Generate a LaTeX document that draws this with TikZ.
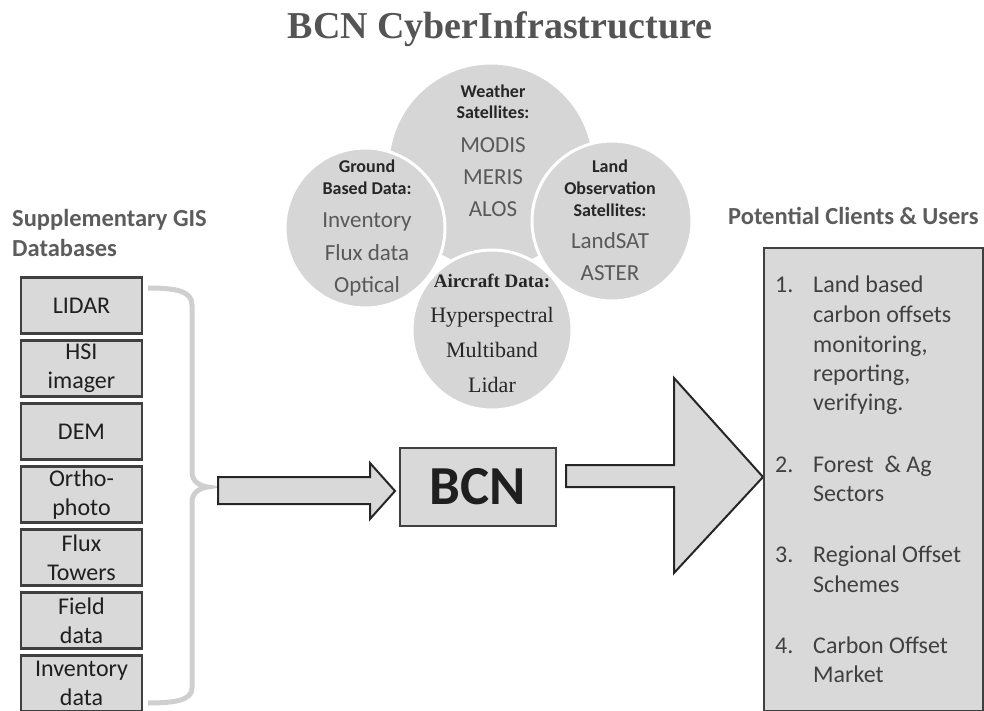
\documentclass[tikz,border=0pt]{standalone}
\usepackage{fontspec}
\setmainfont{Carlito}
\newfontfamily\timesrm{Liberation Serif}
\usetikzlibrary{positioning}

\definecolor{boxfill}{gray}{0.85}
\definecolor{cloudfill}{gray}{0.84}
\definecolor{boxline}{gray}{0.25}
\definecolor{headgray}{gray}{0.36}
\definecolor{bracegray}{gray}{0.81}

\begin{document}
\begin{tikzpicture}[x=1pt, y=-1pt,
    gisbox/.style={draw=boxline, fill=boxfill, line width=2.4pt, outer sep=0pt,
      minimum width=121pt, minimum height=56pt, inner sep=0pt, align=center,
      text=black!88, font=\fontsize{24}{28.5}\selectfont},
    cloud/.style={circle, fill=cloudfill, draw=white, line width=3pt, inner sep=0pt},
    cloudhead/.style={anchor=base, text=black!85, font=\fontsize{18}{20}\selectfont\bfseries},
    clouditem/.style={anchor=base, text=black!65, font=\fontsize{23}{26}\selectfont},
    airhead/.style={anchor=base, text=black!85, font=\timesrm\fontsize{19}{22}\selectfont\bfseries},
    airitem/.style={anchor=base, text=black!85, font=\timesrm\fontsize{22}{26}\selectfont},
    heading/.style={anchor=base west, inner sep=0pt, text=headgray,
      font=\fontsize{24.5}{28}\selectfont\bfseries},
    clientitem/.style={anchor=base west, inner sep=0pt, text=black!75,
      font=\fontsize{24}{28}\selectfont},
    blockarrow/.style={draw=black!85, fill=boxfill, line width=2pt, line join=miter}
  ]
  \useasboundingbox (0,0) rectangle (984,711);

  % Title
  \node[anchor=base, text=black!67, font=\timesrm\fontsize{38}{44}\selectfont\bfseries]
    (title) at (500,39) {BCN CyberInfrastructure};

  % Data source circles
  \node[cloud, minimum size=206pt] (weather) at (491,166) {};
  \node[cloud, minimum size=160pt] (ground) at (365,228) {};
  \node[cloud, minimum size=160pt] (land) at (612,221) {};
  \node[cloud, minimum size=160pt] (aircraft) at (492,330) {};

  \node[cloudhead] (w1) at (493,98) {Weather};
  \node[cloudhead] (w2) at (493,119) {Satellites:};
  \foreach \t/\y [count=\i] in {MODIS/153, MERIS/185, ALOS/217}
    \node[clouditem] (wi\i) at (493,\y) {\t};

  \node[cloudhead] (g1) at (367,173) {Ground};
  \node[cloudhead] (g2) at (367,195) {Based Data:};
  \foreach \t/\y [count=\i] in {Inventory/228, Flux data/260, Optical/292}
    \node[clouditem] (gi\i) at (367,\y) {\t};

  \node[cloudhead] (l1) at (610,173) {Land};
  \node[cloudhead] (l2) at (610,195) {Observation};
  \node[cloudhead] (l3) at (610,217) {Satellites:};
  \foreach \t/\y [count=\i] in {LandSAT/248, ASTER/280}
    \node[clouditem] (li\i) at (610,\y) {\t};

  \node[airhead] (a1) at (492,287) {Aircraft Data:};
  \foreach \t/\y [count=\i] in {Hyperspectral/322, Multiband/357, Lidar/392}
    \node[airitem] (ai\i) at (492,\y) {\t};

  % Supplementary GIS databases
  \node[heading] (gishead) at (12,227) {Supplementary GIS};
  \node[heading] (gishead2) at (12,256) {Databases};

  \node[gisbox] (lidar) at (81.5,305.5) {LIDAR};
  \node[gisbox, below=7pt of lidar] (hsi) {HSI\\imager};
  \node[gisbox, below=7pt of hsi] (dem) {DEM};
  \node[gisbox, below=7pt of dem] (ortho) {Ortho-\\photo};
  \node[gisbox, below=7pt of ortho] (flux) {Flux\\Towers};
  \node[gisbox, below=7pt of flux] (field) {Field\\data};
  \node[gisbox, below=7pt of field] (invent) {Inventory\\data};

  % Brace
  \draw[bracegray, line width=5pt]
    (148,288) .. controls (176,288) and (192,291) .. (192,305)
    -- (192,472) .. controls (192,481) and (199,486) .. (208,487)
    coordinate (bracetip)
    .. controls (199,488) and (192,493) .. (192,502)
    -- (192,688) .. controls (192,700) and (176,703) .. (148,703);

  % Input arrow
  \draw[blockarrow] (218,477) -- (370,477) -- (370,463) -- (395,491)
    -- (370,519) -- (370,504) -- (218,504) -- cycle;

  % BCN
  \node[draw=boxline, fill=boxfill, line width=2.4pt, minimum width=156pt,
    minimum height=78pt, font=\fontsize{55}{60}\selectfont\bfseries, text=black!88]
    (bcn) at (478,487) {BCN};

  % Output arrow
  \draw[blockarrow] (566,465) -- (674,465) -- (674,378) -- (763,477)
    -- (674,573) -- (674,487) -- (566,487) -- cycle;

  % Clients and users
  \node[heading] (clienthead) at (728,225) {Potential Clients \& Users};
  \node[draw=boxline, fill=boxfill, line width=2.4pt, anchor=north west,
    minimum width=219pt, minimum height=463pt] (clients) at (763,247) {};

  \foreach \y/\n in {292/1, 472/2, 562/3, 653/4}
    \node[clientitem] (num\n) at (775,\y) {\n.};
  \foreach \y/\t [count=\i] in {292/Land based, 322/carbon offsets,
      352/{monitoring,}, 381/{reporting,}, 410/verifying., 472/Forest\ \ \& Ag,
      501/Sectors, 562/Regional Offset, 592/Schemes, 653/Carbon Offset, 682/Market}
    \node[clientitem] (c\i) at (813,\y) {\t};
\end{tikzpicture}
\end{document}
